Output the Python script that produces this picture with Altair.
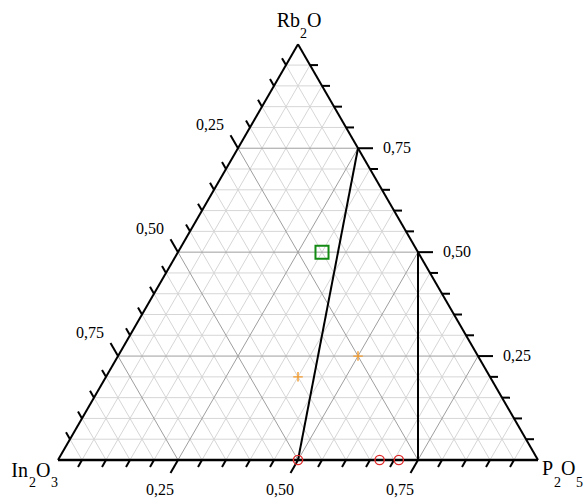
import altair as alt
import pandas as pd
import numpy as np

# ---------------- data ----------------
# compositions given as fractions (In2O3, Rb2O, P2O5)
grid_levels = [round(0.05 * i, 2) for i in range(1, 20)]
major_levels = [0.25, 0.50, 0.75]
tick_label_text = ["0,25", "0,50", "0,75"]

# tie lines (start / end compositions)
tie_start_rb = [0.75, 0.50]
tie_start_p = [0.25, 0.50]
tie_end_rb = [0.00, 0.00]
tie_end_p = [0.50, 0.75]

# phases
circle_rb = [0.00, 0.00, 0.00]
circle_p = [0.50, 0.67, 0.71]
plus_rb = [0.25, 0.20]
plus_p = [0.50, 0.40]
square_rb = [0.50]
square_p = [0.30]

# ---------------- geometry helpers ----------------
S3 = np.sqrt(3) / 2
PX = 480.0  # pixels per unit of data


def xy(rb, p):
    return p + rb / 2.0, rb * S3


def seg_df(rows):
    return pd.DataFrame(rows, columns=["x", "y", "x2", "y2"])


X_DOM = [-58 / PX, (587 - 58) / PX]
Y_DOM = [-39 / PX, 460 / PX]
xs = alt.Scale(domain=X_DOM, nice=False, zero=False)
ys = alt.Scale(domain=Y_DOM, nice=False, zero=False)


def rules(df, color, width):
    return alt.Chart(df).mark_rule(color=color, strokeWidth=width).encode(
        x=alt.X("x:Q", scale=xs, axis=None),
        y=alt.Y("y:Q", scale=ys, axis=None),
        x2="x2:Q",
        y2="y2:Q",
    )


# grid
minor_rows, major_rows = [], []
for v in grid_levels:
    segs = [
        (*xy(v, 0), *xy(v, 1 - v)),          # constant Rb2O
        (*xy(0, v), *xy(1 - v, v)),          # constant P2O5
        (*xy(0, 1 - v), *xy(1 - v, 0)),      # constant In2O3
    ]
    (major_rows if v in major_levels else minor_rows).extend(segs)

grid_minor = rules(seg_df(minor_rows), "#d6d6d6", 1)
grid_major = rules(seg_df(major_rows), "#9e9e9e", 1)

# ticks
tick_rows = []
for v in grid_levels:
    L = (15 if v in major_levels else 8) / PX
    bx, by = xy(0, v)
    tick_rows.append((bx, by, bx - 0.5 * L, by - S3 * L))
    rx, ry = xy(v, 1 - v)
    tick_rows.append((rx, ry, rx + L, ry))
    lx, ly = xy(1 - v, 0)
    tick_rows.append((lx, ly, lx - 0.5 * L, ly + S3 * L))
ticks = rules(seg_df(tick_rows), "black", 2)

# triangle edges
edge_side = rules(seg_df([(*xy(0, 0), *xy(1, 0)), (*xy(1, 0), *xy(0, 1))]), "black", 2)
edge_base = rules(seg_df([(*xy(0, 0), *xy(0, 1))]), "black", 2.6)

# tie lines
tie_rows = [(*xy(a, b), *xy(c, d)) for a, b, c, d in zip(tie_start_rb, tie_start_p, tie_end_rb, tie_end_p)]
tie = rules(seg_df(tie_rows), "black", 2)


# points
def pts(rb, p):
    c = [xy(r, q) for r, q in zip(rb, p)]
    return pd.DataFrame({"x": [a for a, _ in c], "y": [b for _, b in c]})


def pt_enc(ch):
    return ch.encode(x=alt.X("x:Q", scale=xs, axis=None), y=alt.Y("y:Q", scale=ys, axis=None))


circles = pt_enc(alt.Chart(pts(circle_rb, circle_p)).mark_point(
    shape="circle", filled=False, color="#e02a2a", size=85, strokeWidth=1.4, opacity=1))
pluses = pt_enc(alt.Chart(pts(plus_rb, plus_p)).mark_point(
    shape="M-1,0H1M0,-1V1", filled=False, color="#f39a2c", size=90, strokeWidth=1.4, opacity=1))
squares = pt_enc(alt.Chart(pts(square_rb, square_p)).mark_point(
    shape="square", filled=False, color="#138a13", size=170, strokeWidth=2, opacity=1))

# tick labels
FONT = "Liberation Serif"


def text_layer(df, **kw):
    return alt.Chart(df).mark_text(font=FONT, color="black", **kw).encode(
        x=alt.X("x:Q", scale=xs, axis=None),
        y=alt.Y("y:Q", scale=ys, axis=None),
        text="t:N",
    )


bot = pd.DataFrame({"x": [xy(0, v)[0] for v in major_levels],
                    "y": [xy(0, v)[1] for v in major_levels], "t": tick_label_text})
rgt = pd.DataFrame({"x": [xy(v, 1 - v)[0] for v in major_levels],
                    "y": [xy(v, 1 - v)[1] for v in major_levels], "t": tick_label_text})
lft = pd.DataFrame({"x": [xy(1 - v, 0)[0] for v in major_levels],
                    "y": [xy(1 - v, 0)[1] for v in major_levels], "t": tick_label_text})

lab_bot = text_layer(bot, fontSize=16, align="center", baseline="middle", dx=-18, dy=30)
lab_rgt = text_layer(rgt, fontSize=16, align="left", baseline="middle", dx=25, dy=0)
lab_lft = text_layer(lft, fontSize=16, align="center", baseline="middle", dx=-28, dy=-23)

# vertex titles (main text + subscripts)
vertex = {"top": xy(1, 0), "bl": xy(0, 0), "br": xy(0, 1)}
title_parts = [
    # vertex, text, size, align, dx, dy
    ("top", "Rb", 20, "right", 2, -17),
    ("top", "2", 14, "left", 2, -6),
    ("top", "O", 20, "left", 9, -17),
    ("bl", "In", 20, "right", -30, 17),
    ("bl", "2", 14, "left", -29, 27),
    ("bl", "O", 20, "left", -22, 17),
    ("bl", "3", 14, "left", -7, 27),
    ("br", "P", 20, "left", 4, 15),
    ("br", "2", 14, "left", 16, 27),
    ("br", "O", 20, "left", 23, 15),
    ("br", "5", 14, "left", 38, 27),
]
title_layers = []
for vname, t, fs, al, dx, dy in title_parts:
    vx, vy = vertex[vname]
    df = pd.DataFrame({"x": [vx], "y": [vy], "t": [t]})
    title_layers.append(text_layer(df, fontSize=fs, align=al, baseline="alphabetic", dx=dx, dy=dy))

chart = alt.layer(
    grid_minor, grid_major, tie, ticks, edge_side, edge_base,
    circles, pluses, squares, lab_bot, lab_rgt, lab_lft, *title_layers
).properties(
    width=587, height=499, padding=0, autosize=alt.AutoSizeParams(type="none")
).configure_view(stroke=None)

chart.save("out.html", embed_options={"renderer": "svg", "actions": False})
